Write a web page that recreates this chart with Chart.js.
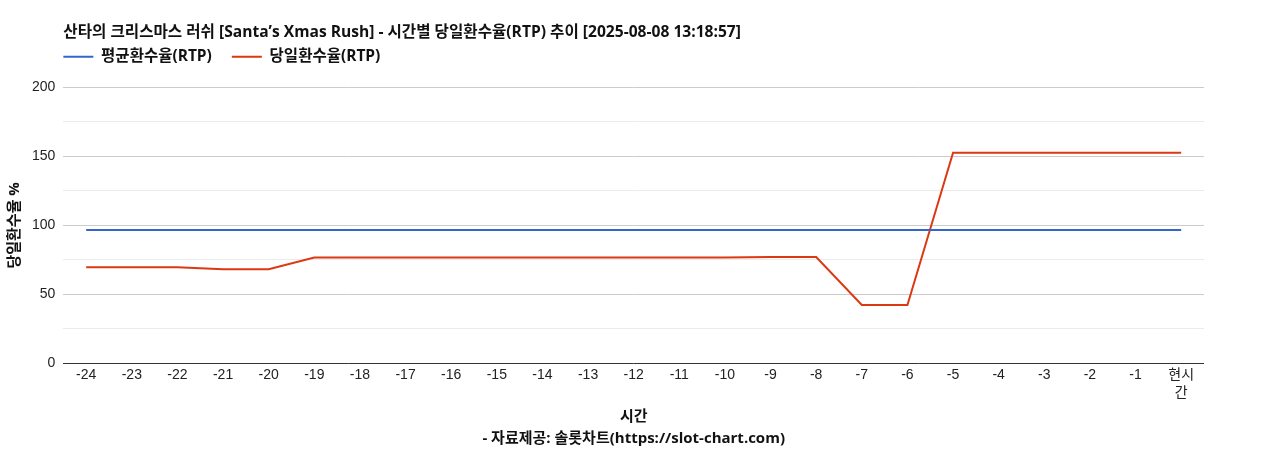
<!DOCTYPE html>
<html>
<head>
<meta charset="utf-8">
<script src="https://cdn.jsdelivr.net/npm/chart.js@4"></script>
<style>
  html, body { margin: 0; padding: 0; background: #fff; }
  #wrap { width: 1268px; height: 450px; }
</style>
</head>
<body>
<div id="wrap"><canvas id="chart"></canvas></div>
<script>
const hours = ["-24", "-23", "-22", "-21", "-20", "-19", "-18", "-17", "-16", "-15", "-14", "-13",
    "-12", "-11", "-10", "-9", "-8", "-7", "-6", "-5", "-4", "-3", "-2", "-1", ["현시", "간"]];
const avgRtp = [96.6, 96.6, 96.6, 96.6, 96.6, 96.6, 96.6, 96.6, 96.6, 96.6, 96.6, 96.6,
    96.6, 96.6, 96.6, 96.6, 96.6, 96.6, 96.6, 96.6, 96.6, 96.6, 96.6, 96.6, 96.6];
const dailyRtp = [69.6, 69.6, 69.6, 68.1, 68.1, 76.6, 76.6, 76.6, 76.6, 76.6, 76.6, 76.6,
    76.6, 76.6, 76.6, 77.0, 77.0, 42.2, 42.2, 152.7, 152.7, 152.7, 152.7, 152.7, 152.7];
const yTicks = [0, 50, 100, 150, 200];

const titleText = "산타의 크리스마스 러쉬 [Santa’s Xmas Rush] - 시간별 당일환수율(RTP) 추이 [2025-08-08 13:18:57]";
const boldFamily = "'Open Sans', 'Noto Sans CJK KR', sans-serif";
const tickFamily = "Arial, 'Liberation Sans', 'Noto Sans CJK KR', sans-serif";

// nudge title and legend to where the original puts them
const headerShift = {
    id: "headerShift",
    afterLayout(chart) {
        const t = chart.titleBlock;
        t.top -= 0.6;
        t.bottom -= 0.6;
        const l = chart.legend;
        l.left -= 20;
        l.right -= 20;
        l.top -= 13;
        l.bottom -= 13;
    },
};

new Chart(document.getElementById("chart"), {
    type: "line",
    data: {
        labels: hours,
        datasets: [
            { label: "평균환수율(RTP)", data: avgRtp, borderColor: "#3366cc", backgroundColor: "#3366cc" },
            { label: "당일환수율(RTP)", data: dailyRtp, borderColor: "#dc3912", backgroundColor: "#dc3912" },
        ],
    },
    options: {
        responsive: true,
        maintainAspectRatio: false,
        animation: false,
        events: [],
        elements: {
            point: { radius: 0 },
            line: { borderWidth: 2, tension: 0 },
        },
        layout: { padding: { left: 7, right: 64, top: 0, bottom: 0 } },
        plugins: {
            title: {
                display: true,
                text: titleText,
                align: "start",
                fullSize: false,
                color: "#111",
                font: { family: boldFamily, size: 15.6, weight: "bold" },
                padding: { top: 23.3, bottom: 0 },
            },
            legend: {
                display: true,
                position: "top",
                align: "start",
                fullSize: false,
                labels: {
                    boxWidth: 30,
                    boxHeight: 2,
                    padding: 20,
                    color: "#111",
                    font: { family: boldFamily, size: 15.5, weight: "bold" },
                    // thin line swatch, no border round it
                    generateLabels: (chart) =>
                        Chart.defaults.plugins.legend.labels.generateLabels(chart)
                            .map((item) => ({ ...item, lineWidth: 0 })),
                },
            },
            tooltip: { enabled: false },
        },
        scales: {
            x: {
                offset: true,
                grid: { display: false, drawTicks: false },
                border: { display: false },
                ticks: {
                    maxRotation: 0,
                    autoSkip: false,
                    padding: 2,
                    color: "#222",
                    font: { family: tickFamily, size: 14, lineHeight: 1.35 },
                },
                title: {
                    display: true,
                    text: ["시간", "- 자료제공: 솔롯차트(https://slot-chart.com)"],
                    color: "#111",
                    font: { family: boldFamily, size: 15, weight: "bold", lineHeight: 1.5 },
                    padding: { top: 0, bottom: 0 },
                },
            },
            y: {
                min: 0,
                max: 200,
                border: { display: false },
                grid: {
                    drawTicks: false,
                    color: (ctx) => {
                        const v = ctx.tick.value;
                        if (v === 0) return "#333";
                        return yTicks.includes(v) ? "#cccccc" : "#ebebeb";
                    },
                },
                ticks: {
                    stepSize: 25,
                    padding: 8,
                    color: "#222",
                    font: { family: tickFamily, size: 14 },
                    callback: (v) => (yTicks.includes(v) ? v : ""),
                },
                title: {
                    display: true,
                    text: "당일환수율 %",
                    color: "#111",
                    font: { family: boldFamily, size: 15, weight: "bold", lineHeight: 1 },
                    padding: { top: 0, bottom: 2 },
                },
            },
        },
    },
    plugins: [headerShift],
});
</script>
</body>
</html>
